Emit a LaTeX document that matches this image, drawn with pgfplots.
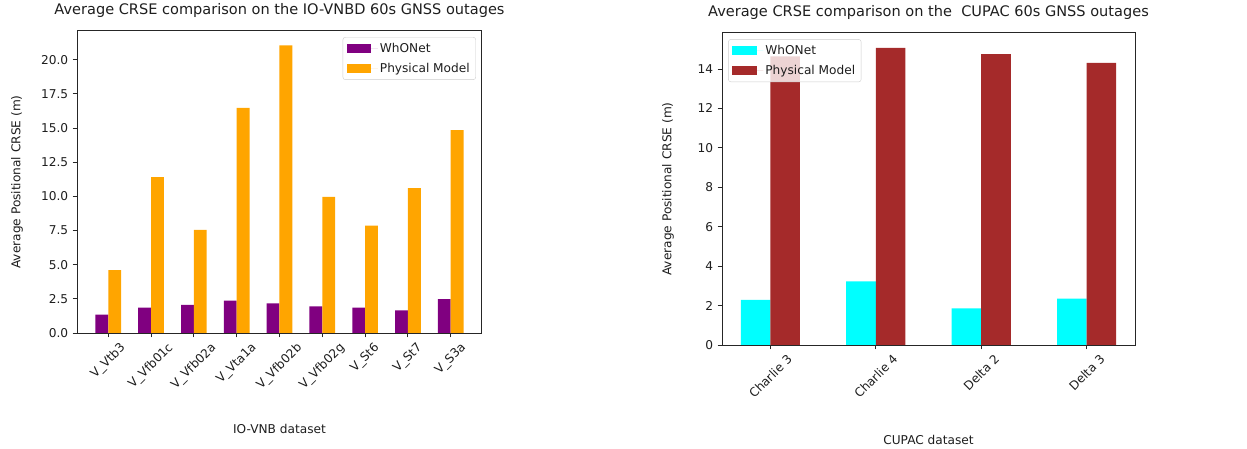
\documentclass[border=0pt]{standalone}
\usepackage{pgfplots}
\pgfplotsset{compat=1.18}
\usepackage{graphicx}
\usepackage{fontspec}
\setmainfont{DejaVu Sans}
\definecolor{mplpurple}{RGB}{128,0,128}
\definecolor{mplorange}{RGB}{255,165,0}
\definecolor{mplcyan}{RGB}{0,255,255}
\definecolor{mplbrown}{RGB}{165,42,42}
\definecolor{txt}{RGB}{30,30,30}
\pgfplotsset{
  mpl/.style={
    scale only axis,
    axis line style={black!85, line width=1bp},
    tick align=outside,
    major tick length=4.3bp,
    tick style={black!85, line width=1bp},
    xtick pos=bottom, ytick pos=left,
    ymin=0,
    /pgf/number format/assume math mode=true,
    tick label style={font=\fontsize{12.2}{14}\selectfont, text=txt},
    yticklabel style={anchor=east, inner sep=0pt, xshift=-4.3bp},
    xticklabel style={anchor=north, inner sep=0pt, yshift=-4.3bp},
    label style={font=\fontsize{12.2}{14}\selectfont, text=txt},
    title style={font=\fontsize{14.6}{17}\selectfont, text=txt, anchor=south, at={(0.5,1)}, yshift=7bp, inner sep=0pt},
    legend style={font=\fontsize{12.2}{14}\selectfont, text=txt, draw=black!20, rounded corners=2.5bp, fill=white, fill opacity=0.8, text opacity=1, inner xsep=4bp, inner ysep=4bp, row sep=5bp},
    legend cell align=left,
    legend image code/.code={\fill[##1, fill opacity=1, sharp corners] (0bp,-4.3bp) rectangle (24.4bp,4.3bp); \path (0bp,0bp) -- (31bp,0bp);},
  }
}
\begin{document}
\begin{tikzpicture}
\useasboundingbox (0,0) rectangle (1247bp,449bp);
% Left panel
\begin{axis}[mpl,
  at={(77bp,116bp)}, anchor=south west,
  width=405bp, height=302bp,
  xmin=-0.73, xmax=8.73, ymax=22.1,
  xtick={0,1,2,3,4,5,6,7,8},
  xticklabels={\rotatebox{45}{V\_Vtb3},\rotatebox{45}{V\_Vfb01c},\rotatebox{45}{V\_Vfb02a},\rotatebox{45}{V\_Vta1a},\rotatebox{45}{V\_Vfb02b},\rotatebox{45}{V\_Vfb02g},\rotatebox{45}{V\_St6},\rotatebox{45}{V\_St7},\rotatebox{45}{V\_S3a}},
  ytick={0,2.5,5,7.5,10,12.5,15,17.5,20},
  yticklabel style={/pgf/number format/.cd, fixed, fixed zerofill, precision=1},
  title={Average CRSE comparison on the IO-VNBD 60s GNSS outages},
  xlabel={IO-VNB dataset},
  ylabel={Average Positional CRSE (m)},
  xlabel style={at={(axis description cs:0.5,-0.318)}, anchor=center},
  ylabel style={at={(axis description cs:-0.148,0.5)}, anchor=center},
  legend style={at={(0.985,0.98)}, anchor=north east},
]
\addplot[ybar, bar width=0.3, bar shift=0pt, fill=mplpurple, draw=none] coordinates {
 (-0.15,1.34) (0.85,1.85) (1.85,2.05) (2.85,2.37) (3.85,2.17) (4.85,1.95) (5.85,1.85) (6.85,1.66) (7.85,2.47)};
\addlegendentry{WhONet}
\addplot[ybar, bar width=0.3, bar shift=0pt, fill=mplorange, draw=none] coordinates {
 (0.15,4.6) (1.15,11.4) (2.15,7.55) (3.15,16.48) (4.15,21.05) (5.15,9.96) (6.15,7.86) (7.15,10.6) (8.15,14.85)};
\addlegendentry{Physical Model}
\end{axis}
% Right panel
\begin{axis}[mpl,
  at={(722bp,104bp)}, anchor=south west,
  width=413bp, height=312bp,
  xmin=-0.458, xmax=3.458, ymax=15.83,
  xtick={0,1,2,3},
  xticklabels={\rotatebox{45}{Charlie 3},\rotatebox{45}{Charlie 4},\rotatebox{45}{Delta 2},\rotatebox{45}{Delta 3}},
  ytick={0,2,4,6,8,10,12,14},
  title={Average CRSE comparison on the \ CUPAC 60s GNSS outages},
  xlabel={CUPAC dataset},
  ylabel={Average Positional CRSE (m)},
  xlabel style={at={(axis description cs:0.5,-0.304)}, anchor=center},
  ylabel style={at={(axis description cs:-0.131,0.5)}, anchor=center},
  legend style={at={(0.015,0.98)}, anchor=north west},
]
\addplot[ybar, bar width=0.28, bar shift=0pt, fill=mplcyan, draw=none] coordinates {
 (-0.14,2.29) (0.86,3.23) (1.86,1.86) (2.86,2.35)};
\addlegendentry{WhONet}
\addplot[ybar, bar width=0.28, bar shift=0pt, fill=mplbrown, draw=none] coordinates {
 (0.14,14.64) (1.14,15.08) (2.14,14.76) (3.14,14.32)};
\addlegendentry{Physical Model}
\end{axis}
\end{tikzpicture}
\end{document}
